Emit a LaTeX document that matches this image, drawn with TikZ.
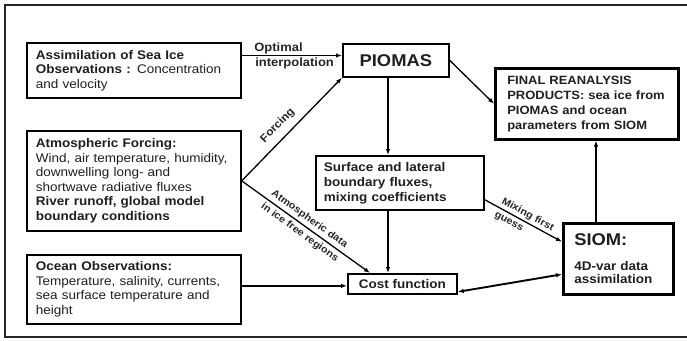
\documentclass[tikz,border=0pt]{standalone}
\usepackage{fontspec}
\setmainfont{Liberation Sans}[FakeStretch=1.08]
\usetikzlibrary{arrows.meta,calc}
\begin{document}
\begin{tikzpicture}[x=1pt,y=-1pt,
  box/.style={draw, line width=1.7pt, anchor=north west, inner ysep=0pt, align=left,
    font=\fontsize{12.5}{14.5}\selectfont, text=black!88},
  thickbox/.style={box, line width=2.6pt},
  arr/.style={line width=1.3pt, -{Latex[length=6pt,width=4.5pt]}},
  lbl/.style={font=\bfseries\fontsize{10}{11}\selectfont, inner sep=1pt, sloped, text=black!85}]
\useasboundingbox (0,0) rectangle (687,340);
\draw[line width=1.6pt, black!85] (692,5) -- (5,5) -- (5,337) -- (692,337);

\node[box, inner xsep=9pt, text width=196pt, minimum width=214pt, minimum height=55pt] (assim) at (26,42)
  {\textbf{Assimilation of Sea Ice}\\\textbf{Observations :} Concentration\\and velocity};
\node[box, inner xsep=9pt, text width=196pt, minimum width=214pt, minimum height=100pt] (atm) at (26,130)
  {\textbf{Atmospheric Forcing:}\\Wind, air temperature, humidity,\\downwelling long- and\\shortwave radiative fluxes\\\textbf{River runoff, global model}\\\textbf{boundary conditions}};
\node[box, inner xsep=9pt, text width=196pt, minimum width=214pt, minimum height=69pt] (ocean) at (26,254)
  {\textbf{Ocean Observations:}\\Temperature, salinity, currents,\\sea surface temperature and\\height};
\node[box, align=center, inner xsep=0pt, minimum width=106pt, minimum height=33pt,
  font=\bfseries\fontsize{17}{20}\selectfont] (piomas) at (342,43) {PIOMAS};
\node[thickbox, inner xsep=12pt, text width=159pt, minimum width=183pt, minimum height=71pt,
  font=\bfseries\fontsize{12}{15}\selectfont] (final) at (494,67)
  {FINAL REANALYSIS\\PRODUCTS: sea ice from\\PIOMAS and ocean\\parameters from SIOM};
\node[box, inner xsep=8pt, text width=152pt, minimum width=168pt, minimum height=54pt,
  font=\bfseries\fontsize{12.5}{15}\selectfont] (surf) at (315,155)
  {Surface and lateral\\boundary fluxes,\\mixing coefficients};
\node[box, align=center, inner xsep=0pt, minimum width=109pt, minimum height=20pt,
  font=\bfseries\fontsize{12.5}{14.5}\selectfont] (cost) at (347,273) {Cost function};
\node[thickbox, inner xsep=11pt, text width=88pt, minimum width=110pt, minimum height=71pt,
  font=\bfseries\fontsize{12.5}{13.5}\selectfont] (siom) at (562,222)
  {{\fontsize{17}{19}\selectfont SIOM:}\\[11pt]4D-var data\\assimilation};

\coordinate (ay) at (0,55.5);
\draw[arr] (assim.east |- ay) -- (piomas.west |- ay)
  node[pos=0.11, anchor=south west, inner sep=1pt, font=\bfseries\fontsize{12}{13}\selectfont, text=black!85] {Optimal}
  node[pos=0.11, anchor=north west, inner sep=2pt, font=\bfseries\fontsize{12}{13}\selectfont, text=black!85] {interpolation};
\draw[arr] (atm.east) -- (piomas.south west)
  node[lbl, pos=0.45, above=6pt, font=\bfseries\fontsize{11}{12}\selectfont] {Forcing};
\draw[arr] (atm.east) -- ($(cost.north west)+(23,0)$)
  node[lbl, pos=0.49, above=2pt] {Atmospheric data}
  node[lbl, pos=0.49, below=2pt] {in ice free regions};
\coordinate (vx) at (388,0);
\draw[arr] (piomas.south -| vx) -- (surf.north -| vx);
\draw[arr] (surf.south -| vx) -- (cost.north -| vx);
\draw[arr] (piomas.east) -- (final.west);
\coordinate (sx) at (596,0);
\draw[arr, line width=2.1pt] (siom.north -| sx) -- (final.south -| sx);
\draw[arr] ($(surf.south east)+(0,-11)$) -- ($(siom.west)+(0,-17)$)
  node[lbl, pos=0.51, above=1pt] {Mixing first}
  node[lbl, pos=0.36, below=3pt] {guess};
\draw[line width=1.9pt, {Latex[length=6pt,width=4.5pt]}-{Latex[length=6pt,width=4.5pt]}]
  ($(cost.east)+(0,8)$) -- ($(siom.west)+(0,15.5)$);
\draw[arr] ($(cost.west -| ocean.east)+(0,2)$) -- ($(cost.west)+(0,2)$);
\end{tikzpicture}
\end{document}
